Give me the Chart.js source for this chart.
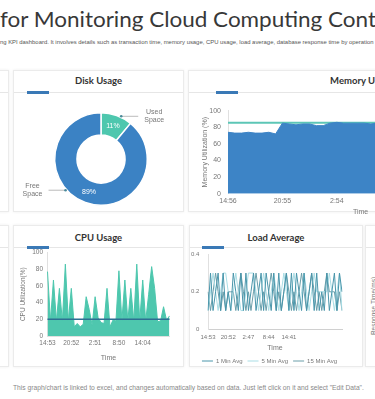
<!DOCTYPE html>
<html>
<head>
<meta charset="utf-8">
<script src="https://cdn.jsdelivr.net/npm/chart.js@4.4.1/dist/chart.umd.min.js"></script>
<style>
  html, body { margin: 0; padding: 0; }
  body { width: 375px; height: 399px; overflow: hidden; position: relative; background: #fff; font-family: 'Liberation Sans', Arial, sans-serif; }
  .panel { position: absolute; background: #fff; border: 1px solid #ebebeb; box-shadow: 0 0 3px rgba(0,0,0,0.07); box-sizing: border-box; }
  .sep { position: absolute; left: 0; right: 0; top: 21px; height: 1px; background: #e6e6e6; }
  .bar { position: absolute; top: 20px; width: 22px; height: 3px; background: #3a79b6; }
  .head { position: absolute; left: 0; right: 0; text-align: center; font: bold 9.5px Lato, sans-serif; color: #333; line-height: 12px; }
  canvas { position: absolute; }
  #title { position: absolute; left: 0; top: 6px; white-space: nowrap; font: 21px Lato, sans-serif; color: #383838; transform: scaleX(1.07); transform-origin: 0 0; }
  #sub { position: absolute; left: 0; top: 39px; white-space: nowrap; font: 5.9px 'Liberation Sans', Arial, sans-serif; color: #555; }
  #foot { position: absolute; left: 13px; top: 384px; white-space: nowrap; font: 6.7px 'Liberation Sans', Arial, sans-serif; color: #888; }
  #resp { position: absolute; left: 372.5px; top: 306px; transform: translate(-50%, -50%) rotate(-90deg); white-space: nowrap; font: 6.5px 'Liberation Sans', Arial, sans-serif; color: #777; }
  #loadTime { position: absolute; left: 275px; top: 347.7px; transform: translate(-50%, -50%); white-space: nowrap; font: 7px 'Liberation Sans', Arial, sans-serif; line-height: 8px; color: #777; }
</style>
</head>
<body>
<div id="title">for Monitoring Cloud Computing Cont</div>
<div id="sub">ng KPI dashboard. It involves details such as transaction time, memory usage, CPU usage, load average, database response time by operation</div>

<div class="panel" style="left:-160px; top:70px; width:169px; height:142px;"><div class="sep"></div></div>
<div class="panel" style="left:13px; top:70px; width:171px; height:142px;"><div class="sep"></div><div class="bar" style="left:13px;"></div><div class="head" style="top:4px;">Disk Usage</div></div>
<div class="panel" style="left:188px; top:70px; width:348px; height:142px;"><div class="sep"></div><div class="bar" style="left:27px;"></div><div class="head" style="top:4px;">Memory Usage</div></div>

<div class="panel" style="left:-160px; top:225px; width:169px; height:142px;"><div class="sep"></div></div>
<div class="panel" style="left:13px; top:225px; width:171px; height:142px;"><div class="sep"></div><div class="bar" style="left:13px;"></div><div class="head" style="top:6px;">CPU Usage</div></div>
<div class="panel" style="left:189px; top:225px; width:174px; height:142px;"><div class="sep"></div><div class="bar" style="left:12px;"></div><div class="head" style="top:6px;">Load Average</div></div>
<div class="panel" style="left:365px; top:225px; width:150px; height:142px;"><div class="sep"></div></div>
<div id="resp">Response Time(ms)</div>

<canvas id="diskChart" width="174" height="118" style="left:14px; top:100px;"></canvas>
<canvas id="memChart" width="348" height="122" style="left:188px; top:98px;"></canvas>
<canvas id="cpuChart" width="171" height="123" style="left:13px; top:244px;"></canvas>
<canvas id="loadChart" width="174" height="132" style="left:189px; top:242px;"></canvas>
<div id="loadTime">Time</div>

<div id="foot">This graph/chart is linked to excel, and changes automatically based on data. Just left click on it and select "Edit Data".</div>

<script>
// disk
const diskLabels = ['Used Space', 'Free Space'];
const diskValues = [11, 89];

// memory
const memTimes = ['14:56','','','','','','','', '20:55','','','','','','','', '2:54','','','','','','','',
  '','','','','','','','', '','','','','','','',''];
const memValues = [74,73,73,74,73,73,74,72,85,84, 83,84,84,82,82,85,86,85,85,85,
  85,84,85,85,84,85,86,85,85,85, 84,85,85,85,86,85,85,84,85,85];
const memThreshold = [85.5,85.5,85.5,85.5,85.5,85.5,85.5,85.5,85.5,85.5, 85.5,85.5,85.5,85.5,85.5,85.5,85.5,85.5,85.5,85.5,
  85.5,85.5,85.5,85.5,85.5,85.5,85.5,85.5,85.5,85.5, 85.5,85.5,85.5,85.5,85.5,85.5,85.5,85.5,85.5,85.5];

// cpu
const cpuTimes = ['14:53','','','','','','','', '20:52','','','','','','','', '2:51','','','','','','','',
  '8:50','','','','','','','', '14:04','','','','','','','', '',''];
const cpuValues = [77,18,67,18,57,18,86,18,57,11, 15,11,14,47,32,13,47,22,16,15,
  57,11,19,18,78,18,67,18,57,18, 86,18,67,18,50,83,57,17,18,35, 19,24];
const cpuThreshold = [20,20,20,20,20,20,20,20,20,20, 20,20,20,20,20,20,20,20,20,20,
  20,20,20,20,20,20,20,20,20,20, 20,20,20,20,20,20,20,20,20,20, 20,20];

// load average
const loadTimes = ['14:53','','','','','','','', '20:52','','','','','','','', '2:47','','','','','','','',
  '8:44','','','','','','','', '14:41','','','','','','','', '','','','','','','','', '','','','','',''];
const load1 = [0.1,0.3,0.1,0.2,0.3,0.1,0.3,0.1,0.2,0.1, 0.3,0.2,0.1,0.3,0.1,0.3,0.1,0.2,0.3,0.1,
  0.2,0.3,0.1,0.3,0.2,0.1,0.3,0.1,0.3,0.1, 0.2,0.3,0.1,0.3,0.1,0.3,0.2,0.1,0.3,0.1,
  0.2,0.3,0.1,0.3,0.1,0.2,0.1,0.3,0.1,0.2, 0.3,0.1,0.3,0.2];
const load5 = [0.1,0.2,0.3,0.2,0.1,0.2,0.3,0.3,0.2,0.1, 0.2,0.3,0.2,0.1,0.1,0.2,0.3,0.3,0.3,0.2,
  0.1,0.2,0.3,0.2,0.1,0.2,0.3,0.2,0.1,0.2, 0.3,0.2,0.1,0.2,0.3,0.2,0.1,0.2,0.3,0.2,
  0.1,0.2,0.3,0.2,0.2,0.2,0.2,0.2,0.3,0.2, 0.1,0.2,0.3,0.1];
const load15 = [0.2,0.1,0.2,0.3,0.2,0.1,0.2,0.1,0.2,0.2, 0.2,0.1,0.2,0.3,0.2,0.1,0.2,0.1,0.2,0.3,
  0.2,0.1,0.2,0.1,0.2,0.3,0.2,0.1,0.2,0.1, 0.2,0.3,0.2,0.1,0.2,0.1,0.2,0.3,0.2,0.1,
  0.2,0.3,0.2,0.1,0.2,0.1,0.2,0.3,0.2,0.2, 0.2,0.1,0.2,0.1];
const loadNames = ['1 Min Avg', '5 Min Avg', '15 Min Avg'];

Chart.defaults.font.family = "'Liberation Sans', Arial, sans-serif";
Chart.defaults.color = '#777';
Chart.defaults.animation = false;
Chart.defaults.responsive = false;
Chart.defaults.plugins.tooltip.enabled = false;
Chart.defaults.plugins.legend.display = false;

// percent labels + callouts on the donut
const donutCallouts = {
  id: 'donutCallouts',
  afterDatasetsDraw(chart) {
    const ctx = chart.ctx;
    const arcs = chart.getDatasetMeta(0).data;
    const where = [0.64, 0.59]; // position of the dot along each slice
    ctx.save();
    ctx.font = '7px "Liberation Sans", Arial, sans-serif';
    ctx.textAlign = 'center';
    ctx.textBaseline = 'middle';
    arcs.forEach((arc, i) => {
      const p = arc.tooltipPosition();
      ctx.fillStyle = '#fff';
      ctx.fillText(diskValues[i] + '%', p.x, p.y);

      const a = arc.startAngle + (arc.endAngle - arc.startAngle) * where[i];
      const r = arc.outerRadius + 1;
      const x0 = arc.x + Math.cos(a) * r;
      const y0 = arc.y + Math.sin(a) * r;
      const dir = Math.cos(a) > 0 ? 1 : -1;
      const x1 = x0 + dir * 17;
      ctx.strokeStyle = '#aaa';
      ctx.lineWidth = 0.8;
      ctx.beginPath();
      ctx.moveTo(x0, y0);
      ctx.lineTo(x1, y0);
      ctx.stroke();
      ctx.fillStyle = '#4a8a9a';
      ctx.beginPath();
      ctx.arc(x0, y0, 1.3, 0, Math.PI * 2);
      ctx.fill();
      const words = diskLabels[i].split(' ');
      ctx.fillStyle = '#777';
      ctx.fillText(words[0], x1 + dir * 16, y0 - 4);
      ctx.fillText(words[1], x1 + dir * 16, y0 + 4);
    });
    ctx.restore();
  }
};

new Chart(document.getElementById('diskChart'), {
  type: 'doughnut',
  data: {
    labels: diskLabels,
    datasets: [{
      data: diskValues,
      backgroundColor: ['#4ec7ae', '#3b82c4'],
      borderColor: '#fff',
      borderWidth: 1.5
    }]
  },
  options: {
    cutout: '52%',
    layout: { padding: 12 }
  },
  plugins: [donutCallouts]
});

new Chart(document.getElementById('memChart'), {
  type: 'line',
  data: {
    labels: memTimes,
    datasets: [
      { data: memValues, borderColor: '#3d84c6', backgroundColor: '#3d84c6', fill: 'origin', borderWidth: 1, pointRadius: 0, order: 1 },
      { data: memThreshold, borderColor: '#5cc6b6', borderWidth: 2, pointRadius: 0, fill: false, order: 2 }
    ]
  },
  options: {
    layout: { padding: { top: 12.7, right: 42.8, left: 0, bottom: 0 } },
    scales: {
      x: {
        grid: { display: false, drawTicks: false },
        border: { display: false },
        ticks: { autoSkip: false, maxRotation: 0, minRotation: 0, padding: 3, font: { size: 7 }, color: '#777' },
        title: { display: true, text: 'Time', font: { size: 7 }, color: '#777', padding: { top: 0, bottom: 3.8 } },
        afterFit(s) { s.height = 26.3; }
      },
      y: {
        min: 0, max: 100,
        grid: { display: false, drawTicks: false },
        border: { display: true, color: '#e0e0e0' },
        ticks: { stepSize: 20, padding: 7, font: { size: 7 }, color: '#777' },
        title: { display: true, text: 'Memory Utilization (%)', font: { size: 7 }, color: '#777', padding: { top: 12.8, bottom: 0 } },
        afterFit(s) { s.width = 40; }
      }
    }
  }
});

new Chart(document.getElementById('cpuChart'), {
  type: 'line',
  data: {
    labels: cpuTimes,
    datasets: [
      { data: cpuValues, borderColor: '#4ec7ae', backgroundColor: '#4ec7ae', fill: 'origin', borderWidth: 1, pointRadius: 0, order: 2 },
      { data: cpuThreshold, borderColor: '#2e6f92', borderWidth: 1.5, pointRadius: 0, fill: false, order: 1 }
    ]
  },
  options: {
    layout: { padding: { top: 0, right: 14.5, left: 0, bottom: 0 } },
    scales: {
      x: {
        grid: { display: false, drawTicks: false },
        border: { display: true, color: '#e0e0e0' },
        ticks: { autoSkip: false, maxRotation: 0, minRotation: 0, padding: 3.4, font: { size: 6.5 }, color: '#777' },
        title: { display: true, text: 'Time', font: { size: 7 }, color: '#777', padding: { top: 0, bottom: 5.1 } },
        afterFit(s) { s.height = 31; }
      },
      y: {
        min: 0, max: 100,
        grid: { display: false, drawTicks: false },
        border: { display: true, color: '#e0e0e0' },
        ticks: { stepSize: 20, padding: 4.5, font: { size: 6.5 }, color: '#777' },
        title: { display: true, text: 'CPU Utilization(%)', font: { size: 6.5 }, color: '#777', padding: { top: 6.4, bottom: 0 } },
        afterFit(s) { s.width = 34.5; }
      }
    }
  }
});

new Chart(document.getElementById('loadChart'), {
  type: 'line',
  data: {
    labels: loadTimes,
    datasets: [
      { label: loadNames[0], data: load1, borderColor: '#4a96ab', borderWidth: 1, pointRadius: 0, pointStyle: 'line' },
      { label: loadNames[1], data: load5, borderColor: '#a9dde5', borderWidth: 1, pointRadius: 0, pointStyle: 'line' },
      { label: loadNames[2], data: load15, borderColor: '#6a9ea9', borderWidth: 1, pointRadius: 0, pointStyle: 'line' }
    ]
  },
  options: {
    layout: { padding: { top: 0, right: 21, left: 0, bottom: 0 } },
    plugins: {
      legend: {
        display: true,
        position: 'bottom',
        align: 'end',
        labels: { usePointStyle: true, pointStyleWidth: 11, padding: 5, font: { size: 6 }, color: '#777' }
      }
    },
    scales: {
      x: {
        grid: { display: false, drawTicks: false },
        border: { display: true, color: '#d0d0d0' },
        ticks: { autoSkip: false, maxRotation: 0, minRotation: 0, padding: 4.4, font: { size: 6 }, color: '#777' },
        title: { display: false },
        afterFit(s) { s.height = 23.7; }
      },
      y: {
        min: 0, max: 0.4,
        grid: { display: false, drawTicks: false },
        border: { display: true, color: '#e0e0e0' },
        ticks: { stepSize: 0.2, padding: 8.7, font: { size: 6 }, color: '#777' },
        afterFit(s) { s.width = 19; }
      }
    }
  }
});
</script>
</body>
</html>
